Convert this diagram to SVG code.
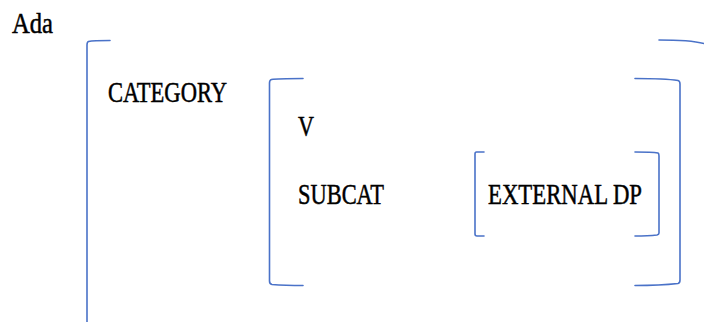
<svg xmlns="http://www.w3.org/2000/svg" width="704" height="322" viewBox="0 0 704 322">
<style>
.t{font-family:"Liberation Serif","Times New Roman",serif;font-size:29px;fill:#000;stroke:#000;stroke-width:0.5;}
.b{fill:none;stroke:#4a72c8;stroke-width:1.6;stroke-linecap:round;stroke-linejoin:round;}
</style>
<rect width="704" height="322" fill="#fff"/>
<g id="label-ada"><text class="t" x="12" y="33" textLength="41" lengthAdjust="spacingAndGlyphs">Ada</text></g>
<g id="outer-matrix">
<path class="b" d="M110,40.5 Q93,40.5 88.5,41.5 Q87,42 87,45 L87,322"/>
<path class="b" d="M659,40 Q690,40 704,43.5"/>
<text class="t" x="108" y="102" textLength="119" lengthAdjust="spacingAndGlyphs">CATEGORY</text>
</g>
<g id="inner-matrix">
<path class="b" d="M303,78.5 Q277,78.5 271.5,79.5 Q269.5,80 269.5,83 L269.5,281 Q269.5,284 272,284.5 Q285,285.5 303,285.5"/>
<path class="b" d="M635,78.5 Q665,78.5 678,80.5 Q680,81 680,84 L680,280 Q680,283 678,283.5 Q660,285.5 635,285.5"/>
<text class="t" x="298" y="136" textLength="16" lengthAdjust="spacingAndGlyphs">V</text>
<text class="t" x="298" y="204" textLength="86" lengthAdjust="spacingAndGlyphs">SUBCAT</text>
</g>
<g id="subcat-value">
<path class="b" d="M484,152 L476.5,152 Q475,152 475,154 L475,234 Q475,236 477,236 L484,236"/>
<path class="b" d="M635,152 Q652,152 658,153 Q659,153.5 659,156 L659,233 Q659,234.5 657,235 Q648,236 635,236"/>
<text class="t" x="488" y="204" textLength="154" lengthAdjust="spacingAndGlyphs">EXTERNAL DP</text>
</g>
<g id="connectors"></g>
</svg>
